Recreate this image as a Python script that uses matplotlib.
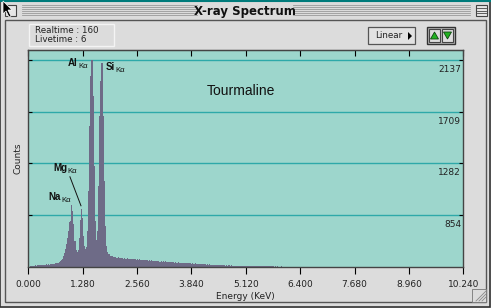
import numpy as np
import matplotlib.pyplot as plt
from matplotlib.patches import Rectangle, Polygon

# spectrum, counts per 0.025 keV channel (0.000 .. 6.000 keV)
counts = [
    427, 427, 430, 431, 434, 435, 435, 437, 435, 438,
    438, 440, 437, 441, 443, 439, 442, 444, 441, 445,
    443, 446, 444, 448, 447, 450, 452, 455, 458, 462,
    469, 477, 493, 510, 535, 568, 610, 660, 718, 792,
    800, 933, 884, 776, 635, 560, 543, 560, 660, 809,
    900, 825, 676, 593, 568, 585, 718, 1050, 1589, 2004,
    2137, 1838, 1257, 801, 643, 718, 1091, 1672, 1963, 2112,
    2112, 1672, 1133, 759, 593, 543, 527, 518, 510, 510,
    505, 502, 508, 500, 497, 503, 499, 494, 500, 496,
    492, 497, 490, 495, 488, 493, 490, 486, 491, 488,
    485, 489, 483, 487, 482, 486, 480, 484, 481, 478,
    482, 477, 480, 475, 479, 474, 477, 472, 476, 473,
    471, 475, 470, 473, 468, 472, 467, 470, 466, 469,
    465, 468, 463, 467, 462, 465, 461, 464, 460, 463,
    459, 462, 457, 460, 456, 459, 455, 458, 454, 457,
    453, 456, 452, 455, 451, 453, 450, 452, 449, 451,
    448, 450, 446, 449, 445, 447, 444, 446, 443, 445,
    442, 444, 441, 443, 440, 442, 439, 441, 438, 440,
    437, 439, 436, 438, 436, 437, 435, 437, 434, 436,
    434, 436, 433, 435, 433, 434, 432, 434, 432, 433,
    431, 433, 431, 432, 430, 432, 430, 431, 429, 431,
    430, 431, 429, 430, 429, 430, 428, 430, 428, 429,
    429, 430, 428, 429, 428, 429, 428, 428, 429, 428,
    428, 428, 427, 428, 427, 428, 427, 427, 428, 427,
    427,
]
channel_kev = 0.025
energy = np.arange(len(counts)) * channel_kev

x_ticks = [0.0, 1.28, 2.56, 3.84, 5.12, 6.40, 7.68, 8.96, 10.24]
x_labels = ["0.000", "1.280", "2.560", "3.840", "5.120", "6.400", "7.680", "8.960", "10.240"]
y_ticks = [854, 1282, 1709, 2137]
y_labels = ["854", "1282", "1709", "2137"]

peaks = ["Al", "Si", "Mg", "Na"]
peak_kev = [1.49, 1.74, 1.25, 1.04]

W, H = 491, 308
fig = plt.figure(figsize=(W / 100, H / 100), dpi=100)
fig.patch.set_facecolor("#dcdcdc")

# window chrome drawn in pixel coordinates
win = fig.add_axes([0, 0, 1, 1], zorder=0)
win.set_xlim(0, W)
win.set_ylim(H, 0)
win.axis("off")

win.add_patch(Rectangle((0, 0), W - 1, H - 1, fill=False, ec="#333333", lw=1.2))
win.plot([0, W], [0.5, 0.5], color="#007b7b", lw=1.5)
for y in range(5, 17, 2):
    win.plot([22, 197], [y, y], color="#9a9a9a", lw=0.6)
    win.plot([293, 470], [y, y], color="#9a9a9a", lw=0.6)
win.text(245, 11, "X-ray Spectrum", ha="center", va="center", fontsize=8.5,
         fontweight="bold", family="DejaVu Sans", color="#111111")
win.add_patch(Rectangle((5, 5), 11, 11, fc="#e6e6e6", ec="#444444", lw=0.8))
win.add_patch(Rectangle((476, 5), 11, 11, fc="#e6e6e6", ec="#444444", lw=0.8))
for y in (8, 10.5, 13):
    win.plot([477, 486], [y, y], color="#444444", lw=0.6)
# mouse cursor
win.add_patch(Polygon([(3, 1), (3, 14), (6, 11), (9, 17), (11, 16), (8, 10), (12, 10)],
                      closed=True, fc="black", ec="white", lw=0.5, zorder=5))

win.add_patch(Rectangle((5, 20), 481, 282, fill=False, ec="#555555", lw=1.0))
# resize grip
win.add_patch(Rectangle((472, 289), 14, 13, fc="#dcdcdc", ec="#777777", lw=0.6))
for d in (4, 7, 10):
    win.plot([486 - d, 486], [301, 301 - d], color="#888888", lw=0.6)

# info box
win.add_patch(Rectangle((29, 24), 85, 22, fc="#dcdcdc", ec="#f4f4f4", lw=1.0))
win.text(35, 30.5, "Realtime : 160", fontsize=6.3, va="center", color="#222222")
win.text(35, 39, "Livetime : 6", fontsize=6.3, va="center", color="#222222")

# Linear button
win.add_patch(Rectangle((368, 27), 47, 17, fc="#e2e2e2", ec="#555555", lw=0.9))
win.text(389, 35.5, "Linear", fontsize=6.3, ha="center", va="center", color="#222222")
win.add_patch(Polygon([(408, 32), (408, 40), (412, 36)], closed=True, fc="black"))

# up / down buttons
win.add_patch(Rectangle((427, 27), 28, 17, fc="#bdbdbd", ec="#333333", lw=1.0))
win.add_patch(Rectangle((429, 29), 11, 13, fc="#dedede", ec="#444444", lw=0.8))
win.add_patch(Rectangle((442, 29), 11, 13, fc="#dedede", ec="#444444", lw=0.8))
win.add_patch(Polygon([(430.5, 39), (438.5, 39), (434.5, 32)], closed=True,
                      fc="#21b321", ec="#114411", lw=0.6))
win.add_patch(Polygon([(443.5, 32), (451.5, 32), (447.5, 39)], closed=True,
                      fc="#21b321", ec="#114411", lw=0.6))

# spectrum plot
left, right, top, bottom = 28.3, 463.3, 50, 266.5
ax = fig.add_axes([left / W, 1 - bottom / H, (right - left) / W, (bottom - top) / H], zorder=1)
ax.set_facecolor("#9dd6cc")
ax.fill_between(energy, counts, 427, step="mid", color="#6e6b87", lw=0, zorder=2)
ax.set_xlim(0, 10.24)
ax.set_ylim(427, 2220)

for yv in y_ticks:
    ax.axhline(yv, color="#2ea9a9", lw=1.0, zorder=1)
for yv, lab in zip(y_ticks, y_labels):
    ax.annotate(lab, (10.19, yv), xytext=(0, -7), textcoords="offset points",
                ha="right", va="center", fontsize=6.5, color="#222222")

ax.set_xticks(x_ticks)
ax.set_xticklabels(x_labels, fontsize=6.5, color="#222222")
ax.tick_params(axis="x", direction="out", length=5, width=0.8, pad=5)
sec = ax.secondary_xaxis("top")
sec.set_xticks(x_ticks)
sec.tick_params(direction="in", length=4, width=0.8, labeltop=False)
sec.spines["top"].set_color("#444444")
ax.set_yticks(y_ticks)
ax.set_yticklabels([])
ax.tick_params(axis="y", direction="in", length=3, width=0.8, right=True)
for s in ax.spines.values():
    s.set_color("#444444")
    s.set_linewidth(1.0)

ax.set_xlabel("Energy (KeV)", fontsize=6.5, labelpad=2, color="#222222")
ax.set_ylabel("Counts", fontsize=6.5, labelpad=1, color="#222222")

ax.text(5.0, 1880, "Tourmaline", fontsize=10, family="Liberation Sans",
        ha="center", va="center", color="#111111")

# peak labels (element + K-alpha subscript)
label_pos = {"Al": (0.94, 2110), "Si": (1.81, 2080), "Mg": (0.58, 1240), "Na": (0.47, 1000)}
renderer = fig.canvas.get_renderer()
for el in peaks:
    lx, ly = label_pos[el]
    t = ax.text(lx, ly, el, fontsize=7, fontweight="bold", family="Liberation Sans",
                va="center", ha="left", color="#111111")
    bb = t.get_window_extent(renderer)
    x1 = ax.transData.inverted().transform((bb.x1, bb.y0))[0]
    ax.annotate("K\u03b1", (x1, ly), xytext=(0.5, -2.5),
                textcoords="offset points", fontsize=5.5, family="Liberation Sans",
                va="center", ha="left", color="#111111")
ax.plot([0.98, peak_kev[2] - 0.01], [1170, 930], color="#111111", lw=0.7)

fig.savefig("out.png", dpi=100, facecolor=fig.get_facecolor())
